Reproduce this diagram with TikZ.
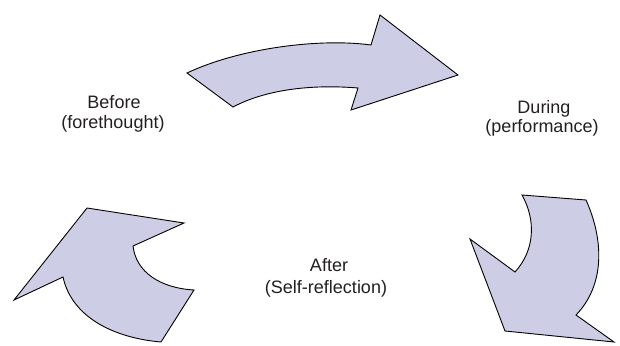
\documentclass[tikz,border=0pt]{standalone}
\usepackage{fontspec}
\setmainfont{Liberation Sans}
\definecolor{arrowfill}{RGB}{205,205,230}
\definecolor{labeltext}{RGB}{35,31,32}
\begin{document}
\begin{tikzpicture}[x=1pt,y=-1pt,
  cyclearrow/.style={fill=arrowfill,draw=black,line width=0.9pt,line join=miter},
  phase/.style={anchor=base,inner sep=0pt,text=labeltext,font=\fontsize{18}{21}\selectfont}]
  \useasboundingbox (0,0) rectangle (620,345);

  % before -> during
  \draw[cyclearrow] (187,73) .. controls (240,48) and (320,38) .. (371,45)
    -- (380,15) -- (458,75) -- (351,110) -- (358,88)
    .. controls (310,84) and (265,90) .. (233,107) -- cycle;

  % during -> after
  \draw[cyclearrow] (522,195) -- (586,200)
    .. controls (604,240) and (605,285) .. (576,315)
    -- (614,342) -- (505,331) -- (470,239) -- (515,272)
    .. controls (535,250) and (536,220) .. cycle;

  % after -> before
  \draw[cyclearrow] (133,246) .. controls (136,272) and (160,288) .. (194,290)
    -- (161,342) .. controls (115,338) and (72,318) .. (63,277)
    -- (14,300) -- (87,208) -- (184,223) -- cycle;

  % phase labels
  \node[phase] (before1) at (114,108) {Before};
  \node[phase] (before2) at (113,128) {(forethought)};
  \node[phase] (during1) at (544,113) {During};
  \node[phase] (during2) at (542,132) {(performance)};
  \node[phase] (after1) at (329,271) {After};
  \node[phase] (after2) at (326,293) {(Self-reflection)};
\end{tikzpicture}
\end{document}
